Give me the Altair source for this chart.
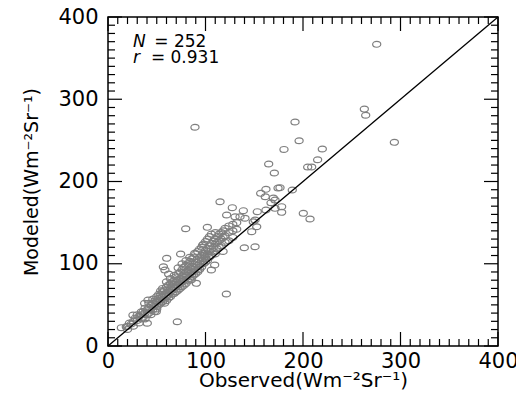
import altair as alt
import pandas as pd

# ---- data ----
sparse_obs = [275.6, 262.9, 264.3, 293.7, 89.2, 191.8, 196.0, 180.5, 219.8, 215.0,
              204.8, 208.9, 189.0, 176.4, 164.8, 170.6, 174.4, 162.0, 156.6, 161.3,
              169.6, 171.3, 167.2, 178.1, 178.1, 200.3, 171.3, 162.0, 153.1, 138.8,
              127.5, 114.9, 121.7, 130.3, 135.4, 140.5, 150.8, 207.2, 79.7, 101.9,
              149.0, 152.5, 147.4, 139.8, 150.8, 97.0, 74.5, 60.2, 56.8, 58.4,
              121.4, 71.1, 13.7, 18.8, 23.9, 25.6, 40.3, 49.5, 34.2, 37.6,
              41.0, 83.8, 88.9, 99.2, 62.2, 92.3, 106.0, 109.4, 85.4, 90.6]
sparse_mod = [366.8, 288.0, 280.5, 247.6, 266.0, 272.3, 249.6, 239.0, 239.5, 226.5,
              217.6, 217.6, 189.7, 192.5, 221.3, 210.3, 192.1, 190.5, 185.6, 181.5,
              180.0, 177.5, 174.2, 169.4, 162.5, 161.3, 167.4, 165.3, 163.3, 164.5,
              168.2, 175.4, 159.3, 157.2, 157.2, 155.3, 153.2, 154.4, 142.6, 144.3,
              151.0, 145.0, 139.0, 119.5, 120.7, 122.8, 111.9, 106.6, 96.4, 92.4,
              63.2, 29.5, 22.3, 23.5, 26.7, 37.7, 27.6, 41.7, 41.7, 51.9,
              55.9, 107.8, 112.7, 110.6, 87.5, 92.4, 92.4, 98.5, 80.2, 76.2]

dense_rows = {
    20: [20, 24], 22: [28], 26: [30, 24], 28: [34], 30: [31, 38], 32: [36, 28],
    34: [38, 33], 36: [42, 35], 38: [40, 46, 33], 40: [44, 38], 42: [47, 40, 52],
    44: [45, 50, 38], 46: [52, 44, 57], 48: [50, 55, 42], 50: [54, 48, 60, 45],
    52: [58, 50, 63], 54: [56, 62, 52, 67], 56: [60, 54, 66, 70], 58: [63, 57, 68, 52],
    60: [65, 60, 72, 55, 78], 62: [68, 62, 74, 58], 64: [70, 66, 76, 60, 82],
    66: [72, 68, 78, 63], 68: [75, 70, 80, 64, 86], 70: [78, 72, 84, 66],
    72: [80, 74, 88, 68, 95], 74: [82, 76, 90, 70], 76: [85, 78, 93, 72, 100],
    78: [88, 80, 96, 74], 80: [90, 84, 98, 76, 104], 82: [92, 86, 100, 79],
    84: [95, 88, 103, 82], 86: [97, 90, 106, 84], 88: [100, 93, 108, 86],
    90: [102, 96, 112, 88], 92: [105, 98, 115, 90], 94: [108, 100, 118, 93],
    96: [110, 104, 120, 96], 98: [113, 106, 124, 100], 100: [116, 108, 127, 102],
    102: [118, 112, 130, 104], 104: [122, 115, 133, 108], 106: [125, 118, 136, 110],
    108: [128, 120, 115], 110: [130, 124, 138, 112], 112: [133, 126, 118],
    114: [136, 128, 120], 116: [138, 130, 122], 118: [140, 132, 115],
    120: [143, 134, 126], 124: [146, 138, 128], 128: [148, 140, 132], 132: [150, 142],
}

obs = list(sparse_obs)
mod = list(sparse_mod)
for xv, ys in dense_rows.items():
    for yv in ys:
        obs.append(xv)
        mod.append(yv)

line_x = [0, 400]
line_y = [0, 400]
major_ticks = [0, 100, 200, 300, 400]
minor_ticks = [v for v in range(10, 400, 10) if v % 100 != 0]

ann_italic = ["N", "r"]
ann_italic_x = [25.6, 25.6]
ann_italic_y = [363.5, 344.0]
ann_rest = ["= 252", "= 0.931"]
ann_rest_x = [47.5, 44.0]
ann_rest_y = [363.5, 344.0]

# ---- chart ----
W, H = 390, 329
FONT = "DejaVu Sans"
xs = alt.Scale(domain=[0, 400], nice=False)
ys = alt.Scale(domain=[0, 400], nice=False)
x_axis = alt.Axis(values=major_ticks, ticks=False, domain=False, grid=False,
                  labelFontSize=21, labelFont=FONT, labelColor="black",
                  labelPadding=4, labelFlush=False,
                  title="Observed(Wm\u207b\u00b2Sr\u207b\u00b9)", titleFont=FONT,
                  titleFontSize=20, titleFontWeight="normal", titleColor="black",
                  titlePadding=-1)
y_axis = alt.Axis(values=major_ticks, ticks=False, domain=False, grid=False,
                  labelFontSize=21, labelFont=FONT, labelColor="black",
                  labelPadding=10, labelFlush=False,
                  title="Modeled(Wm\u207b\u00b2Sr\u207b\u00b9)", titleFont=FONT,
                  titleFontSize=19, titleFontWeight="normal", titleColor="black",
                  titlePadding=16)


def X(field):
    return alt.X(field, type="quantitative", scale=xs, axis=x_axis)


def Y(field):
    return alt.Y(field, type="quantitative", scale=ys, axis=y_axis)


pts = pd.DataFrame({"obs": obs, "mod": mod})
ellipse = "M -1 0 A 1 0.72 0 1 1 1 0 A 1 0.72 0 1 1 -1 0 Z"
scatter = alt.Chart(pts).mark_point(shape=ellipse, filled=False, size=66,
                                    stroke="#7f7f7f", strokeWidth=1.2, opacity=1).encode(
    x=X("obs"), y=Y("mod"))

line = alt.Chart(pd.DataFrame({"x": line_x, "y": line_y})).mark_line(
    color="black", strokeWidth=1.3).encode(x=X("x"), y=Y("y"))

maj = pd.DataFrame({"v": major_ticks})
mnr = pd.DataFrame({"v": minor_ticks})


def tick_layers(df, L):
    c = alt.Chart(df).mark_rule(color="black", strokeWidth=1.2)
    return [
        c.encode(x=X("v"), y=alt.value(H), y2=alt.value(H - L)),
        c.encode(x=X("v"), y=alt.value(0), y2=alt.value(L)),
        c.encode(y=Y("v"), x=alt.value(0), x2=alt.value(L)),
        c.encode(y=Y("v"), x=alt.value(W), x2=alt.value(W - L)),
    ]


ticks = tick_layers(maj, 14) + tick_layers(mnr, 7)

t1 = alt.Chart(pd.DataFrame({"x": ann_italic_x, "y": ann_italic_y, "t": ann_italic})).mark_text(
    align="left", baseline="alphabetic", fontSize=17, font=FONT, fontStyle="italic",
    color="black").encode(x=X("x"), y=Y("y"), text="t:N")
t2 = alt.Chart(pd.DataFrame({"x": ann_rest_x, "y": ann_rest_y, "t": ann_rest})).mark_text(
    align="left", baseline="alphabetic", fontSize=17, font=FONT,
    color="black").encode(x=X("x"), y=Y("y"), text="t:N")

chart = alt.layer(scatter, line, *ticks, t1, t2).properties(
    width=W, height=H, autosize="none",
    padding={"left": 100, "top": 9, "right": 18, "bottom": 45},
    background="white",
).configure_view(stroke="black", strokeWidth=1.5)

chart.save("out.html", embed_options={"renderer": "svg", "actions": False})
